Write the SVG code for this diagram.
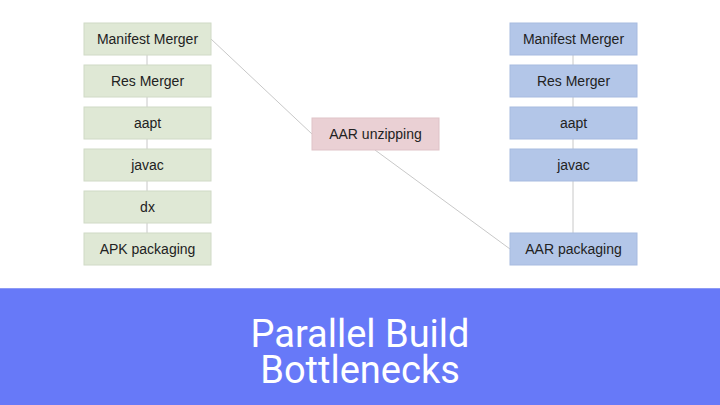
<svg xmlns="http://www.w3.org/2000/svg" width="720" height="405" viewBox="0 0 720 405">
<style>
.g rect{fill:#dfe8d5;stroke:#d0dac6;stroke-width:1}
.b rect{fill:#b3c6e8;stroke:#a7bbe0;stroke-width:1}
.p rect{fill:#ead0d4;stroke:#dfc3c8;stroke-width:1}
.lbl{font-family:"Liberation Sans",Arial,sans-serif;font-size:14px;fill:#222;text-anchor:middle;dominant-baseline:central}
.conn line{stroke:#c8c8c8;stroke-width:1}
.title{font-family:Roboto,"Liberation Sans",sans-serif;font-size:38px;fill:#fff;text-anchor:middle}
</style>
<rect width="720" height="405" fill="#fff"/>
<g class="conn">
<line x1="147" y1="55" x2="147" y2="65"/>
<line x1="147" y1="97" x2="147" y2="107"/>
<line x1="147" y1="139" x2="147" y2="149"/>
<line x1="147" y1="181" x2="147" y2="191"/>
<line x1="147" y1="223" x2="147" y2="233"/>
<line x1="573" y1="55" x2="573" y2="65"/>
<line x1="573" y1="97" x2="573" y2="107"/>
<line x1="573" y1="139" x2="573" y2="149"/>
<line x1="573" y1="181" x2="573" y2="233"/>
<line x1="211" y1="39" x2="312" y2="134"/>
<line x1="375" y1="150" x2="510" y2="249"/>
</g>
<g id="l-manifest" class="g"><rect x="84" y="23" width="127" height="32"/><text class="lbl" x="147.5" y="39">Manifest Merger</text></g>
<g id="l-res" class="g"><rect x="84" y="65" width="127" height="32"/><text class="lbl" x="147.5" y="81">Res Merger</text></g>
<g id="l-aapt" class="g"><rect x="84" y="107" width="127" height="32"/><text class="lbl" x="147.5" y="123">aapt</text></g>
<g id="l-javac" class="g"><rect x="84" y="149" width="127" height="32"/><text class="lbl" x="147.5" y="165">javac</text></g>
<g id="l-dx" class="g"><rect x="84" y="191" width="127" height="32"/><text class="lbl" x="147.5" y="207">dx</text></g>
<g id="l-apk" class="g"><rect x="84" y="233" width="127" height="32"/><text class="lbl" x="147.5" y="249">APK packaging</text></g>
<g id="aar-unzip" class="p"><rect x="312" y="118" width="127" height="32"/><text class="lbl" x="375.5" y="134">AAR unzipping</text></g>
<g id="r-manifest" class="b"><rect x="510" y="23" width="127" height="32"/><text class="lbl" x="573.5" y="39">Manifest Merger</text></g>
<g id="r-res" class="b"><rect x="510" y="65" width="127" height="32"/><text class="lbl" x="573.5" y="81">Res Merger</text></g>
<g id="r-aapt" class="b"><rect x="510" y="107" width="127" height="32"/><text class="lbl" x="573.5" y="123">aapt</text></g>
<g id="r-javac" class="b"><rect x="510" y="149" width="127" height="32"/><text class="lbl" x="573.5" y="165">javac</text></g>
<g id="r-aar" class="b"><rect x="510" y="233" width="127" height="32"/><text class="lbl" x="573.5" y="249">AAR packaging</text></g>
<g id="banner">
<rect x="0" y="288" width="720" height="117" fill="#6779f8"/>
<line x1="0" y1="288.5" x2="720" y2="288.5" stroke="#8d9af5" stroke-width="1"/>
<text class="title" x="360" y="347"><tspan x="360" y="347">Parallel Build</tspan><tspan x="360" y="383">Bottlenecks</tspan></text>
</g>
</svg>
